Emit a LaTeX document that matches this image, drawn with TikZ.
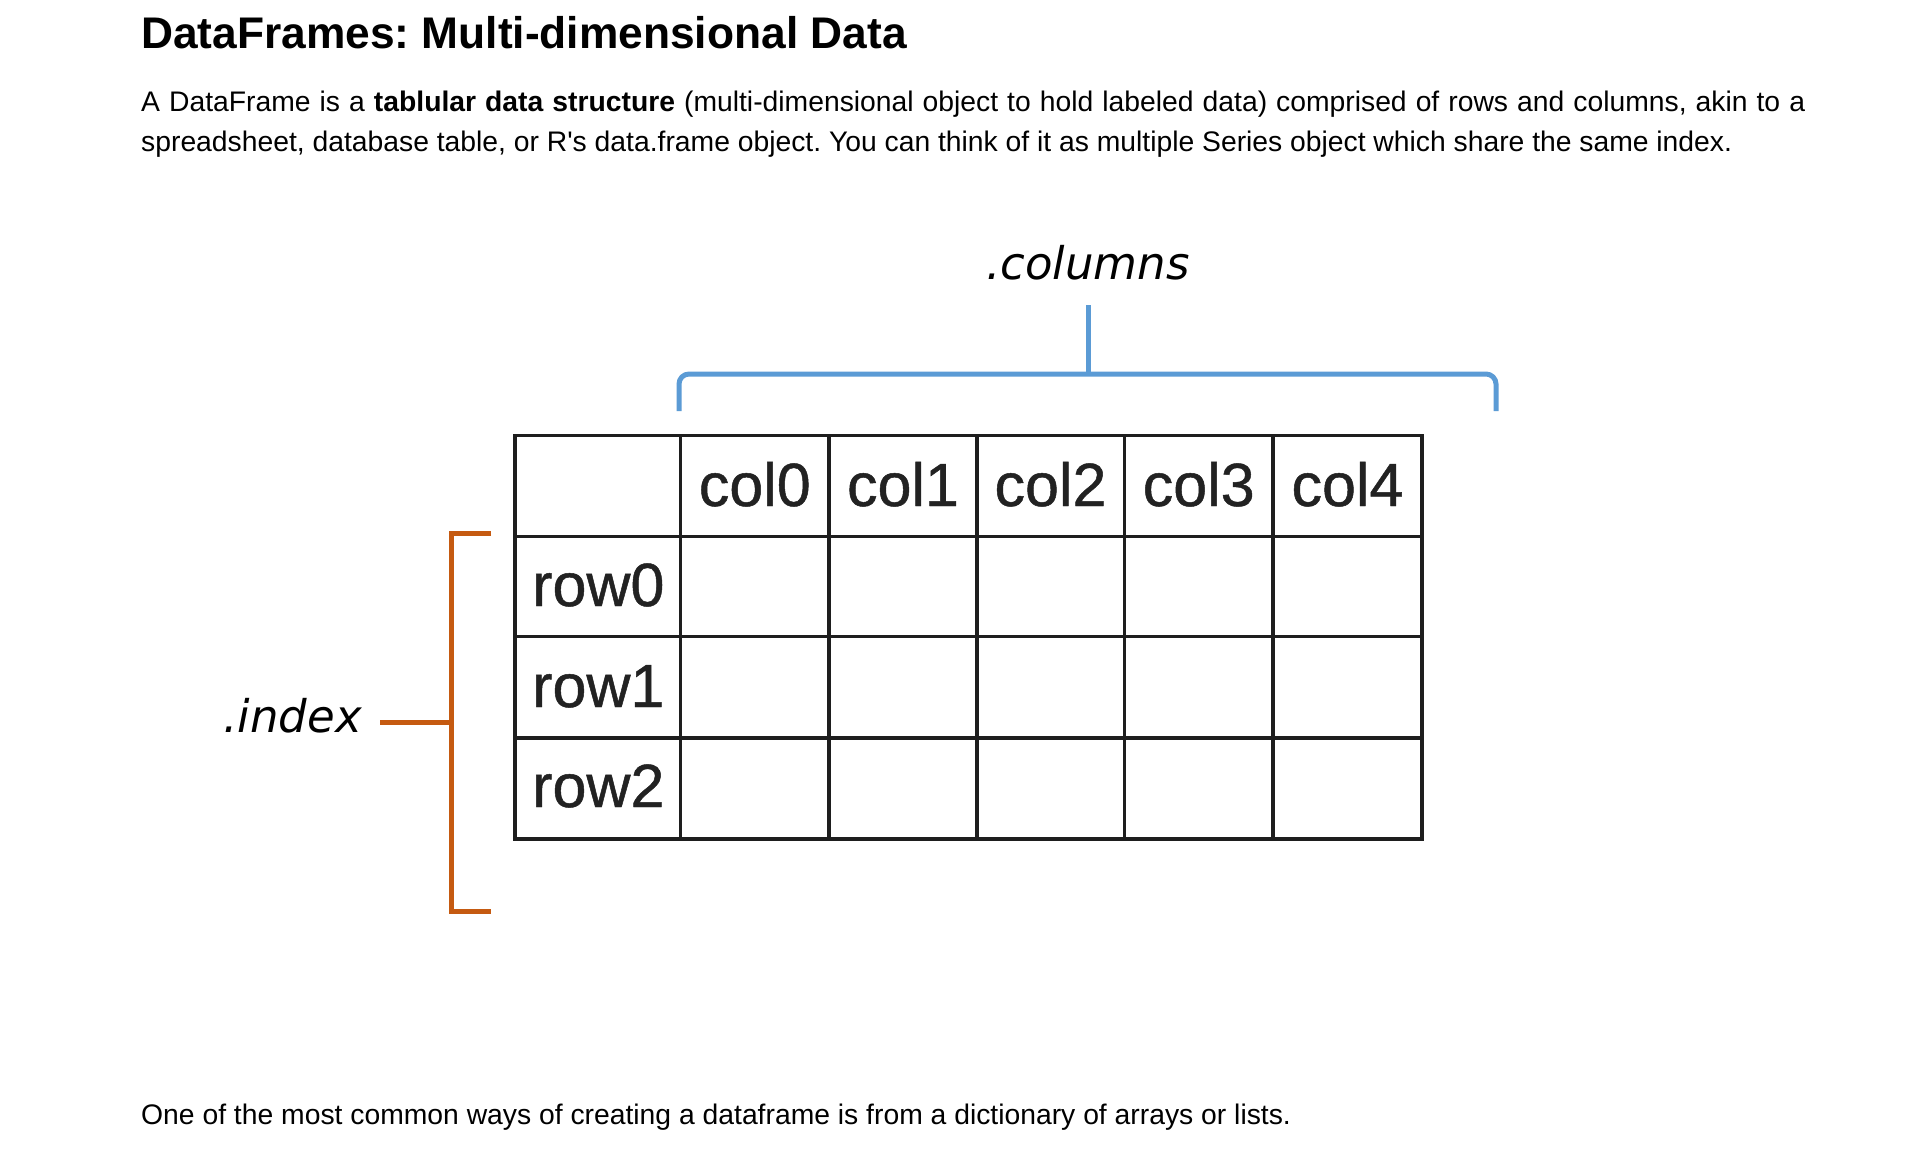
\documentclass[tikz,border=0pt]{standalone}
\usepackage{fontspec}
\setmainfont{Liberation Sans}
\newfontfamily\obliquefont{DejaVu Sans}
\newfontfamily\cellfont[FakeBold=0.8]{Liberation Sans}
\definecolor{bracketblue}{HTML}{5B9BD5}
\definecolor{bracketorange}{HTML}{C55A11}
\definecolor{gridline}{HTML}{1E1E1E}
\definecolor{labeltext}{HTML}{222222}
\frenchspacing
\begin{document}
\begin{tikzpicture}[x=1pt,y=-1pt,
  bodytext/.style={anchor=base west,inner sep=0pt,font=\fontsize{28.3}{40}\selectfont},
  titletext/.style={anchor=base west,inner sep=0pt,font=\fontsize{44.3}{53}\selectfont\bfseries},
  celllabel/.style={inner sep=0pt,text=labeltext,font=\fontsize{61}{70}\selectfont\cellfont},
  attrlabel/.style={inner sep=0pt,anchor=base,font=\fontsize{45}{54}\selectfont\obliquefont\itshape},
  gridstroke/.style={draw=gridline,line width=3.6pt},
  bluebrace/.style={draw=bracketblue,line width=5pt},
  orangebrace/.style={draw=bracketorange,line width=5pt}
]
\useasboundingbox[fill=white] (0,0) rectangle (1912,1158);

% texts
\node[titletext] (title) at (141,49) {DataFrames: Multi-dimensional Data};
\node[bodytext] (para1) at (141,112) {\makebox[1664pt][s]{A DataFrame is a \textbf{tablular data structure} (multi-dimensional object to hold labeled data) comprised of rows and columns, akin to a}};
\node[bodytext] (para2) at (141,152) {\makebox[1591pt][s]{spreadsheet, database table, or R\textquotesingle s data.frame object. You can think of it as multiple Series object which share the same index.}};
\node[bodytext] (para3) at (141,1124) {One of the most common ways of creating a dataframe is from a dictionary of arrays or lists.};

% table grid
\foreach \yy in {536.5,636.5,737.7} \draw[gridstroke] (515,\yy) -- (1422,\yy);
\foreach \xx in {680.4,829.2,976.7,1124.3,1273.1} \draw[gridstroke] (\xx,435.3) -- (\xx,838.9);
\draw[gridstroke] (515,435.3) rectangle (1422,838.9);

% column labels
\node[celllabel,anchor=base] (c0) at (754.8,506) {col0};
\node[celllabel,anchor=base] (c1) at (903,506) {col1};
\node[celllabel,anchor=base] (c2) at (1050.5,506) {col2};
\node[celllabel,anchor=base] (c3) at (1198.7,506) {col3};
\node[celllabel,anchor=base] (c4) at (1347.5,506) {col4};
% row labels
\node[celllabel,anchor=base west] (r0) at (532,606) {row0};
\node[celllabel,anchor=base west] (r1) at (532,707) {row1};
\node[celllabel,anchor=base west] (r2) at (532,807) {row2};

% columns brace
\node[attrlabel] (collabel) at (1088,280) {.columns};
\coordinate (stemtop) at (1088,305);
\coordinate (stembot) at (1088,374);
\coordinate (bl) at (679,411);
\coordinate (br) at (1496,411);
\draw[bluebrace,rounded corners=10pt] (bl) -- (679,374) -- (1496,374) -- (br);
\draw[bluebrace] (stembot) -- (stemtop);

% index bracket
\node[attrlabel,anchor=base east] (idxlabel) at (362,732) {.index};
\coordinate (armtop) at (491,533);
\coordinate (armbot) at (491,911);
\coordinate (armmid) at (380,722);
\draw[orangebrace] (armtop) -- (451,533) -- (451,911) -- (armbot);
\draw[orangebrace] (armmid) -- (451,722);
\end{tikzpicture}
\end{document}
